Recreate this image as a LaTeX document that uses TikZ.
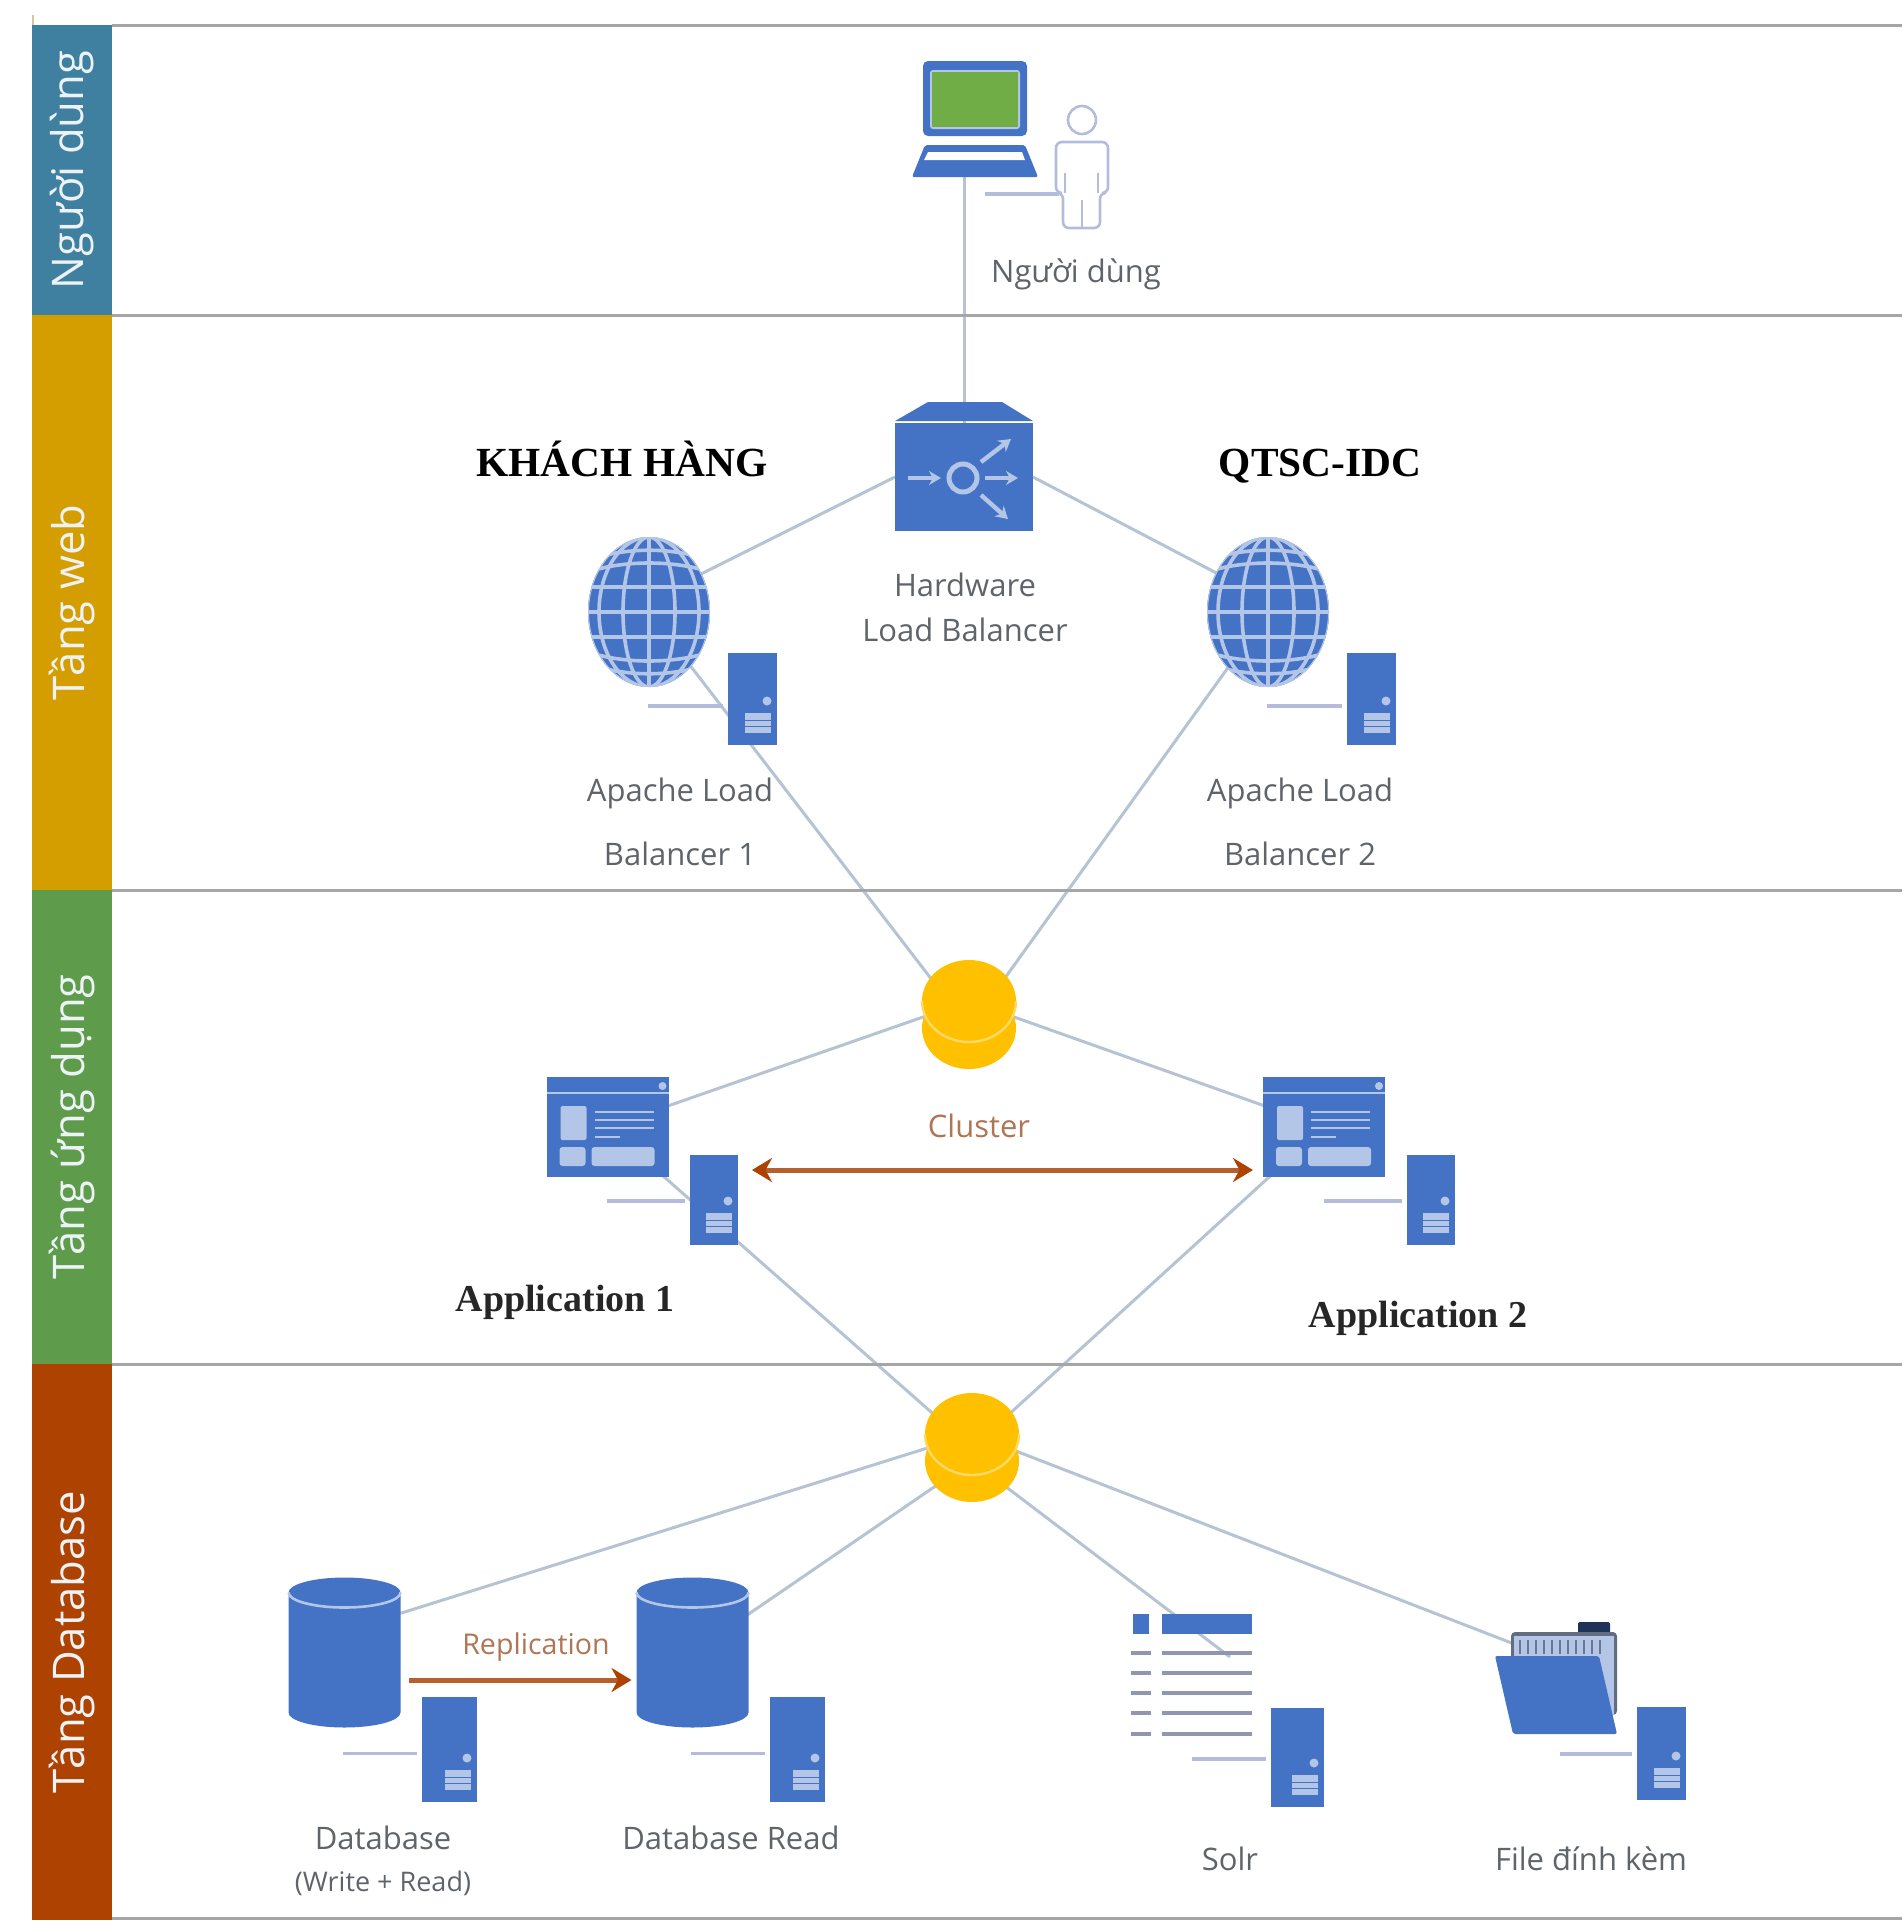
\documentclass[tikz,border=0pt]{standalone}
\usepackage{fontspec}
\usepackage{tikz}
\usetikzlibrary{positioning,backgrounds,shapes.geometric,arrows.meta}
\setmainfont{Open Sans}
\newfontfamily\titlefont{Liberation Serif}

\definecolor{laneblue}{HTML}{3F7F9F}
\definecolor{lanegold}{HTML}{D49E00}
\definecolor{lanegreen}{HTML}{5E9C4C}
\definecolor{lanebrown}{HTML}{AE4200}
\definecolor{iconblue}{HTML}{4472C4}
\definecolor{iconlight}{HTML}{B4C6E7}
\definecolor{screengreen}{HTML}{70AD47}
\definecolor{wireblue}{HTML}{B5C3D3}
\definecolor{stubblue}{HTML}{B4BCDC}
\definecolor{coingold}{HTML}{FFC000}
\definecolor{coinedge}{HTML}{FFD966}
\definecolor{textgrey}{HTML}{5F646B}
\definecolor{arrowbrown}{HTML}{B4602F}
\definecolor{labelbrown}{HTML}{AE7654}

\tikzset{
  lanebar/.style={rotate=90,minimum height=80*0.5pt,inner sep=0pt,outer sep=0pt,text=white!90!laneblue,font=\fontsize{21.8}{24}\selectfont},
  laneline/.style={draw=black!35,line width=1.5pt},
  wire/.style={draw=wireblue,line width=1.5pt},
  stubline/.style={draw=stubblue,line width=1.7pt,shorten >=2.5pt},
  brownarrow/.style={draw=arrowbrown,line width=2.5pt,{Stealth[length=10pt,width=12pt,color=lanebrown]}-{Stealth[length=10pt,width=12pt,color=lanebrown]}},
  replarrow/.style={draw=arrowbrown,line width=2.5pt,-{Stealth[length=10pt,width=12pt,color=lanebrown]}},
  lbl/.style={text=textgrey,align=center,inner sep=0pt,font=\fontsize{15.5}{22}\selectfont},
  titlelbl/.style={text=black,inner sep=0pt,anchor=base,font=\titlefont\bfseries\fontsize{20.7}{24}\selectfont},
  applbl/.style={text=black!85,inner sep=0pt,font=\titlefont\bfseries\fontsize{19}{22}\selectfont},
  gridline/.style={draw=iconlight,line width=1.8pt},
  hollowbox/.style={inner sep=0pt,outer sep=0pt},
  balarrow/.style={draw=iconlight,line width=2.2pt,-{Stealth[length=6pt,width=7pt]}},
  % server box with its stub
  pics/srvicon/.style n args={4}{code={
    \node[hollowbox,fill=iconblue,minimum width=#1*0.5pt,minimum height=#2*0.5pt] (-body) at (0,0) {};
    \coordinate (-stub) at ({-#1/2-#3},#4);
    \draw[stubline] (-stub) -- (-stub -| -body.west);
    \fill[iconlight] ({#1/2-10},{#2/2-44}) circle (4.5);
    \fill[iconlight] ({#1/2-32},{#2/2-32}) rectangle ({#1/2-6},{#2/2-12});
    \draw[iconblue,line width=0.4pt] ({#1/2-32},{#2/2-25}) -- ({#1/2-6},{#2/2-25});
    \draw[iconblue,line width=0.4pt] ({#1/2-32},{#2/2-19}) -- ({#1/2-6},{#2/2-19});
  }},
  % web globe
  pics/globeicon/.style={code={
    \node[hollowbox,ellipse,fill=iconblue,minimum width=122*0.5pt,minimum height=150*0.5pt] (-body) at (0,0) {};
    \begin{scope}
      \clip (0,0) ellipse (61 and 75);
      \foreach \gy in {-25,0,25} {
        \draw[gridline] (-61,\gy) -- (61,\gy);
      }
      \foreach \gs in {1,-1} {
        \draw[gridline] (-61,\gs*40) .. controls (-25,\gs*52) and (25,\gs*52) .. (61,\gs*40);
        \draw[gridline] (-50,\gs*55) .. controls (-20,\gs*64) and (20,\gs*64) .. (50,\gs*55);
      }
      \draw[gridline] (0,-75) -- (0,75);
      \draw[gridline] (0,0) ellipse (26 and 75);
      \draw[gridline] (0,0) ellipse (50 and 75);
      \draw[iconlight,line width=1pt] (0,0) ellipse (61 and 75);
    \end{scope}
  }},
  % stacked yellow coins
  pics/coinicon/.style={code={
    \node[hollowbox,ellipse,fill=coingold,minimum width=94*0.5pt,minimum height=82*0.5pt] (-low) at (0,27) {};
    \node[hollowbox,ellipse,fill=coingold,minimum width=94*0.5pt,minimum height=82*0.5pt] (-top) at (0,0) {};
    \coordinate (-mid) at (0,14);
    \draw[coinedge,line width=1.2pt] (-47,0) arc (180:0:47 and 41);
  }},
  % application window
  pics/appicon/.style={code={
    \node[hollowbox,fill=iconblue,minimum width=122*0.5pt,minimum height=100*0.5pt] (-body) at (0,0) {};
    \draw[iconlight,line width=1.3pt] (-61,-34) -- (61,-34);
    \fill[iconlight] (55,-41) circle (4);
    \fill[iconlight,rounded corners=1pt] (-47,-21) rectangle (-21,13);
    \foreach \ly in {-15,-7,1} {
      \draw[iconlight,line width=1.3pt] (-13,\ly) -- (46,\ly);
    }
    \draw[iconlight,line width=1.3pt] (-13,10) -- (12,10);
    \fill[iconlight,rounded corners=1.5pt] (-48,20) rectangle (-22,39);
    \fill[iconlight,rounded corners=1.5pt] (-16,20) rectangle (47,39);
  }},
  % database cylinder
  pics/dbicon/.style={code={
    \node[hollowbox,minimum width=112*0.5pt,minimum height=151*0.5pt] (-body) at (0,0) {};
    \fill[iconblue] (-56,-60) -- (-56,60) arc (180:0:56 and 15) -- (56,-60) arc (0:-180:56 and 15) -- cycle;
    \draw[iconlight,line width=1.3pt] (-56,-60) arc (180:0:56 and 15);
  }}
}

\begin{document}
\begin{tikzpicture}[x=0.5pt,y=-0.5pt]
  \useasboundingbox (0,0) rectangle (1902,1922);
  % Lane rules
  \foreach \ry in {25,315,890,1364,1918} {
    \draw[laneline] (112,\ry) -- (1902,\ry);
  }
  \draw[black!25!lanegold!40,line width=1pt] (33,15) -- (33,25);

  % Lanes
  \node[lanebar,fill=laneblue,minimum width=290*0.5pt] (laneuser) at (72,170) {Người dùng};
  \node[lanebar,fill=lanegold,minimum width=575*0.5pt] (laneweb) at (72,602.5) {Tầng web};
  \node[lanebar,fill=lanegreen,minimum width=474*0.5pt] (laneapp) at (72,1127) {Tầng ứng dụng};
  \node[lanebar,fill=lanebrown,minimum width=556*0.5pt] (lanedb) at (72,1642) {Tầng Database};

  % Laptop
  \fill[iconblue,rounded corners=2.5pt] (923,61) rectangle (1027,136);
  \fill[iconlight,rounded corners=1.5pt] (930,70) rectangle (1020,129);
  \fill[screengreen] (932,72) rectangle (1018,127);
  \fill[iconblue,rounded corners=1pt] (925,145) -- (1025,145) -- (1038,177) -- (912,177) -- cycle;
  \fill[white] (928,152) -- (1022,152) -- (1025,160) -- (924,160) -- cycle;
  \node[hollowbox,minimum width=126*0.5pt,minimum height=32*0.5pt] (laptop) at (975,161) {};

  % Person
  \node[hollowbox,circle,draw=stubblue,line width=1.3pt,minimum size=28*0.5pt] (personhead) at (1082,120) {};
  \draw[stubblue,line width=1.3pt,rounded corners=3pt] (1063,228) -- (1063,193) -- (1056,193) -- (1056,142) -- (1108,142) -- (1108,193) -- (1100,193) -- (1100,228) -- cycle;
  \draw[stubblue,line width=1.3pt] (1065,173) -- (1065,193);
  \draw[stubblue,line width=1.3pt] (1098,173) -- (1098,193);
  \draw[stubblue,line width=1.3pt] (1082,200) -- (1082,228);
  \coordinate (personstub) at (985,194);
  \draw[stubline,shorten >=4.5pt] (personstub) -- (personstub -| personhead.west);
  \node[lbl] (personlbl) at (1076,274) {Người dùng};

  % Hardware balancer
  \node[hollowbox,fill=iconblue,minimum width=138*0.5pt,minimum height=108*0.5pt] (hwlb) at (964,477) {};
  \fill[iconblue] (895,421) -- (928,402) -- (1002,402) -- (1033,421) -- cycle;
  \draw[iconlight,line width=2.5pt] (963,478) circle (14);
  \draw[balarrow] (908,478) -- (941,478);
  \draw[balarrow] (985,478) -- (1018,478);
  \draw[balarrow] (981,462) -- (1011,439);
  \draw[balarrow] (981,495) -- (1008,519);
  \node[lbl] (hwlblbl) at (965,607) {Hardware\\[0.6pt]Load Balancer};

  % Apache balancers
  \pic (web1) at (649,612) {globeicon};
  \pic (web2) at (1268,612) {globeicon};
  \pic (srvweb1) at (752.5,699) {srvicon={49}{92}{80}{7}};
  \pic (srvweb2) at (1371.5,699) {srvicon={49}{92}{80}{7}};
  \node[lbl] (web1lbl) at (680,822) {Apache Load\\[10pt]Balancer 1};
  \node[lbl] (web2lbl) at (1300,822) {Apache Load\\[10pt]Balancer 2};
  \node[titlelbl] (clientlbl) at (622,476) {KHÁCH HÀNG};
  \node[titlelbl] (idclbl) at (1320,476) {QTSC-IDC};

  % Application tier
  \pic (clusterA) at (969,1001) {coinicon};
  \pic (app1) at (607.5,1127) {appicon};
  \pic (app2) at (1324,1127) {appicon};
  \pic (srvapp1) at (714,1200) {srvicon={48}{90}{83}{1}};
  \pic (srvapp2) at (1431,1200) {srvicon={48}{90}{83}{1}};
  \node[lbl,text=labelbrown] (clusterlbl) at (979,1126) {Cluster};
  \node[applbl] (app1lbl) at (565,1302) {Application 1};
  \node[applbl] (app2lbl) at (1418,1318) {Application 2};
  \coordinate (clusterline) at (0,1170);
  \draw[brownarrow,shorten <=7pt,shorten >=5pt] (srvapp1-body.east |- clusterline) -- (app2-body.west |- clusterline);

  % Database tier
  \pic (clusterB) at (972,1434) {coinicon};
  \pic (db) at (344.5,1652.5) {dbicon};
  \pic (dbread) at (692.5,1652.5) {dbicon};
  \pic (srvdb) at (449.5,1749.5) {srvicon={55}{105}{79}{4}};
  \pic (srvdbread) at (797.5,1749.5) {srvicon={55}{105}{79}{4}};
  \node[lbl,text=labelbrown,font=\fontsize{14.3}{18}\selectfont] (repllbl) at (536,1647) {Replication};
  \coordinate (replline) at (0,1680);
  \draw[replarrow,shorten <=4pt,shorten >=2.5pt] (db-body.east |- replline) -- (dbread-body.west |- replline);
  \node[lbl] (dblbl) at (383,1838) {Database};
  \node[lbl,font=\fontsize{13.5}{16}\selectfont] (dbnote) at (383,1883) {(Write + Read)};
  \node[lbl] (dbreadlbl) at (731,1838) {Database Read};

  % Search list
  \node[hollowbox,fill=iconblue,minimum width=16*0.5pt,minimum height=20*0.5pt] (solrtag) at (1141,1624) {};
  \node[hollowbox,fill=iconblue,minimum width=90*0.5pt,minimum height=20*0.5pt] (solrbar) at (1207,1624) {};
  \foreach \ly in {1653,1673,1693,1713,1734} {
    \draw[black!20!stubblue,line width=2pt] (1131,\ly) -- (1151,\ly);
    \draw[black!20!stubblue,line width=2pt] (1162,\ly) -- (1252,\ly);
  }
  \coordinate (solrend) at (1230,1657);
  \pic (srvsolr) at (1297.5,1757.5) {srvicon={53}{99}{79}{1.5}};
  \node[lbl] (solrlbl) at (1230,1859) {Solr};

  % Attachments folder
  \fill[iconblue!45!black,rounded corners=1pt] (1578,1622) rectangle (1610,1640);
  \fill[black!45!iconlight,rounded corners=2pt] (1511,1632) rectangle (1617,1715);
  \fill[iconlight] (1514,1636) rectangle (1614,1715);
  \foreach \sx in {1520,1528,...,1600} {
    \draw[black!40!iconlight,line width=0.6pt] (\sx,1640) -- (\sx,1654);
  }
  \node[hollowbox,minimum width=122*0.5pt,minimum height=112*0.5pt] (folder) at (1556,1678) {};
  \fill[iconblue,rounded corners=1pt] (1495,1656) -- (1599,1656) -- (1617,1734) -- (1513,1734) -- cycle;
  \coordinate (folderend) at (1540,1654);
  \pic (srvfile) at (1661.5,1753.5) {srvicon={49}{93}{77}{0.5}};
  \node[lbl] (filelbl) at (1591,1859) {File đính kèm};

  % Wires
  \begin{pgfonlayer}{background}
    \draw[wire] (hwlb.north) -- (hwlb.north |- laptop.south);
    \draw[wire] (hwlb.west) -- ([yshift=6pt]web1-body.center);
    \draw[wire] (hwlb.east) -- ([yshift=6pt]web2-body.center);
    \draw[wire] (web1-body.center) -- (clusterA-low.center);
    \draw[wire] (web2-body.center) -- (clusterA-low.center);
    \draw[wire] (clusterA-top.center) -- (app1-body.center);
    \draw[wire] (clusterA-top.center) -- (app2-body.center);
    \draw[wire] (app1-body.center) -- (clusterB-mid);
    \draw[wire] (app2-body.center) -- (clusterB-mid);
    \draw[wire] (clusterB-top.center) -- (db-body.35);
    \draw[wire] (clusterB-low.center) -- (dbread-body.center);
    \draw[wire] (clusterB-low.center) -- (solrend);
    \draw[wire] (clusterB-top.center) -- (folderend);
  \end{pgfonlayer}
\end{tikzpicture}
\end{document}
